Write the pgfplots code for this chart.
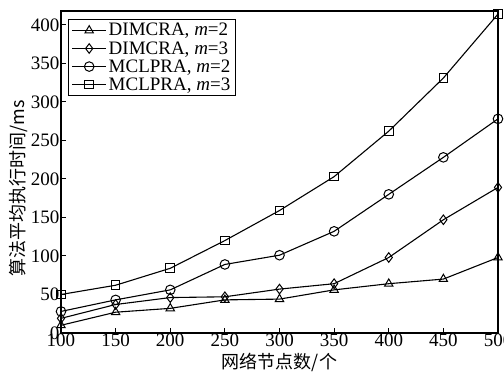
\documentclass[border=0pt]{standalone}
\usepackage{pgfplots}
\pgfplotsset{compat=1.18}
\usepackage{fontspec}
\setmainfont{Liberation Serif}
\newfontfamily\cjk{Noto Sans CJK SC}
\begin{document}
\begin{tikzpicture}
\begin{axis}[
  scale only axis, width=437pt, height=322pt,
  xmin=100, xmax=500, ymin=0, ymax=418,
  xtick={100,150,...,500}, ytick={0,50,...,400},
  tick align=inside, xtick pos=left, ytick pos=left,
  major tick length=5pt,
  axis line style={line width=1.3pt}, tick style={line width=1pt, black},
  /pgf/number format/assume math mode=true,
  tick label style={font=\fontsize{19}{19}\selectfont},
  xlabel={\cjk 网络节点数/个}, ylabel={\cjk 算法平均执行时间/ms},
  label style={font=\fontsize{18}{18}\selectfont},
  xlabel style={yshift=0pt}, ylabel style={at={(ticklabel cs:0.45)}, yshift=-4pt},
  xticklabel style={yshift=3pt}, yticklabel style={xshift=2pt},
  legend style={draw=black, line width=1.3pt, font=\fontsize{19}{19}\selectfont, at={(0.016,0.976)}, anchor=north west, inner sep=2pt, inner xsep=3pt, row sep=0pt},
  legend cell align=left,
  legend image code/.code={\draw[mark repeat=2,mark phase=2,line width=1.1pt] plot coordinates {(0pt,0pt) (17pt,0pt) (34pt,0pt)};},
  every axis plot/.append style={black, line width=1.1pt, mark size=4.8pt, mark options={solid, fill=white, line width=1pt}},
]
\addplot[mark=triangle] coordinates {(100,10) (150,27) (200,32) (250,43) (300,44) (350,56) (400,64) (450,70) (500,98)};
\addlegendentry{DIMCRA, \textit{m}=2}
\addplot[mark=diamond] coordinates {(100,19) (150,37) (200,46) (250,47) (300,57) (350,64) (400,98) (450,147) (500,189)};
\addlegendentry{DIMCRA, \textit{m}=3}
\addplot[mark=o] coordinates {(100,28) (150,43) (200,56) (250,89) (300,101) (350,132) (400,180) (450,228) (500,278)};
\addlegendentry{MCLPRA, \textit{m}=2}
\addplot[mark=square, mark size=4.3pt] coordinates {(100,50) (150,62) (200,84) (250,120) (300,159) (350,203) (400,262) (450,331) (500,414)};
\addlegendentry{MCLPRA, \textit{m}=3}
\end{axis}
\pgfresetboundingbox
\path ([shift={(-61pt,-38pt)}]current axis.south west) rectangle ([shift={(6pt,11pt)}]current axis.north east);
\end{tikzpicture}
\end{document}
